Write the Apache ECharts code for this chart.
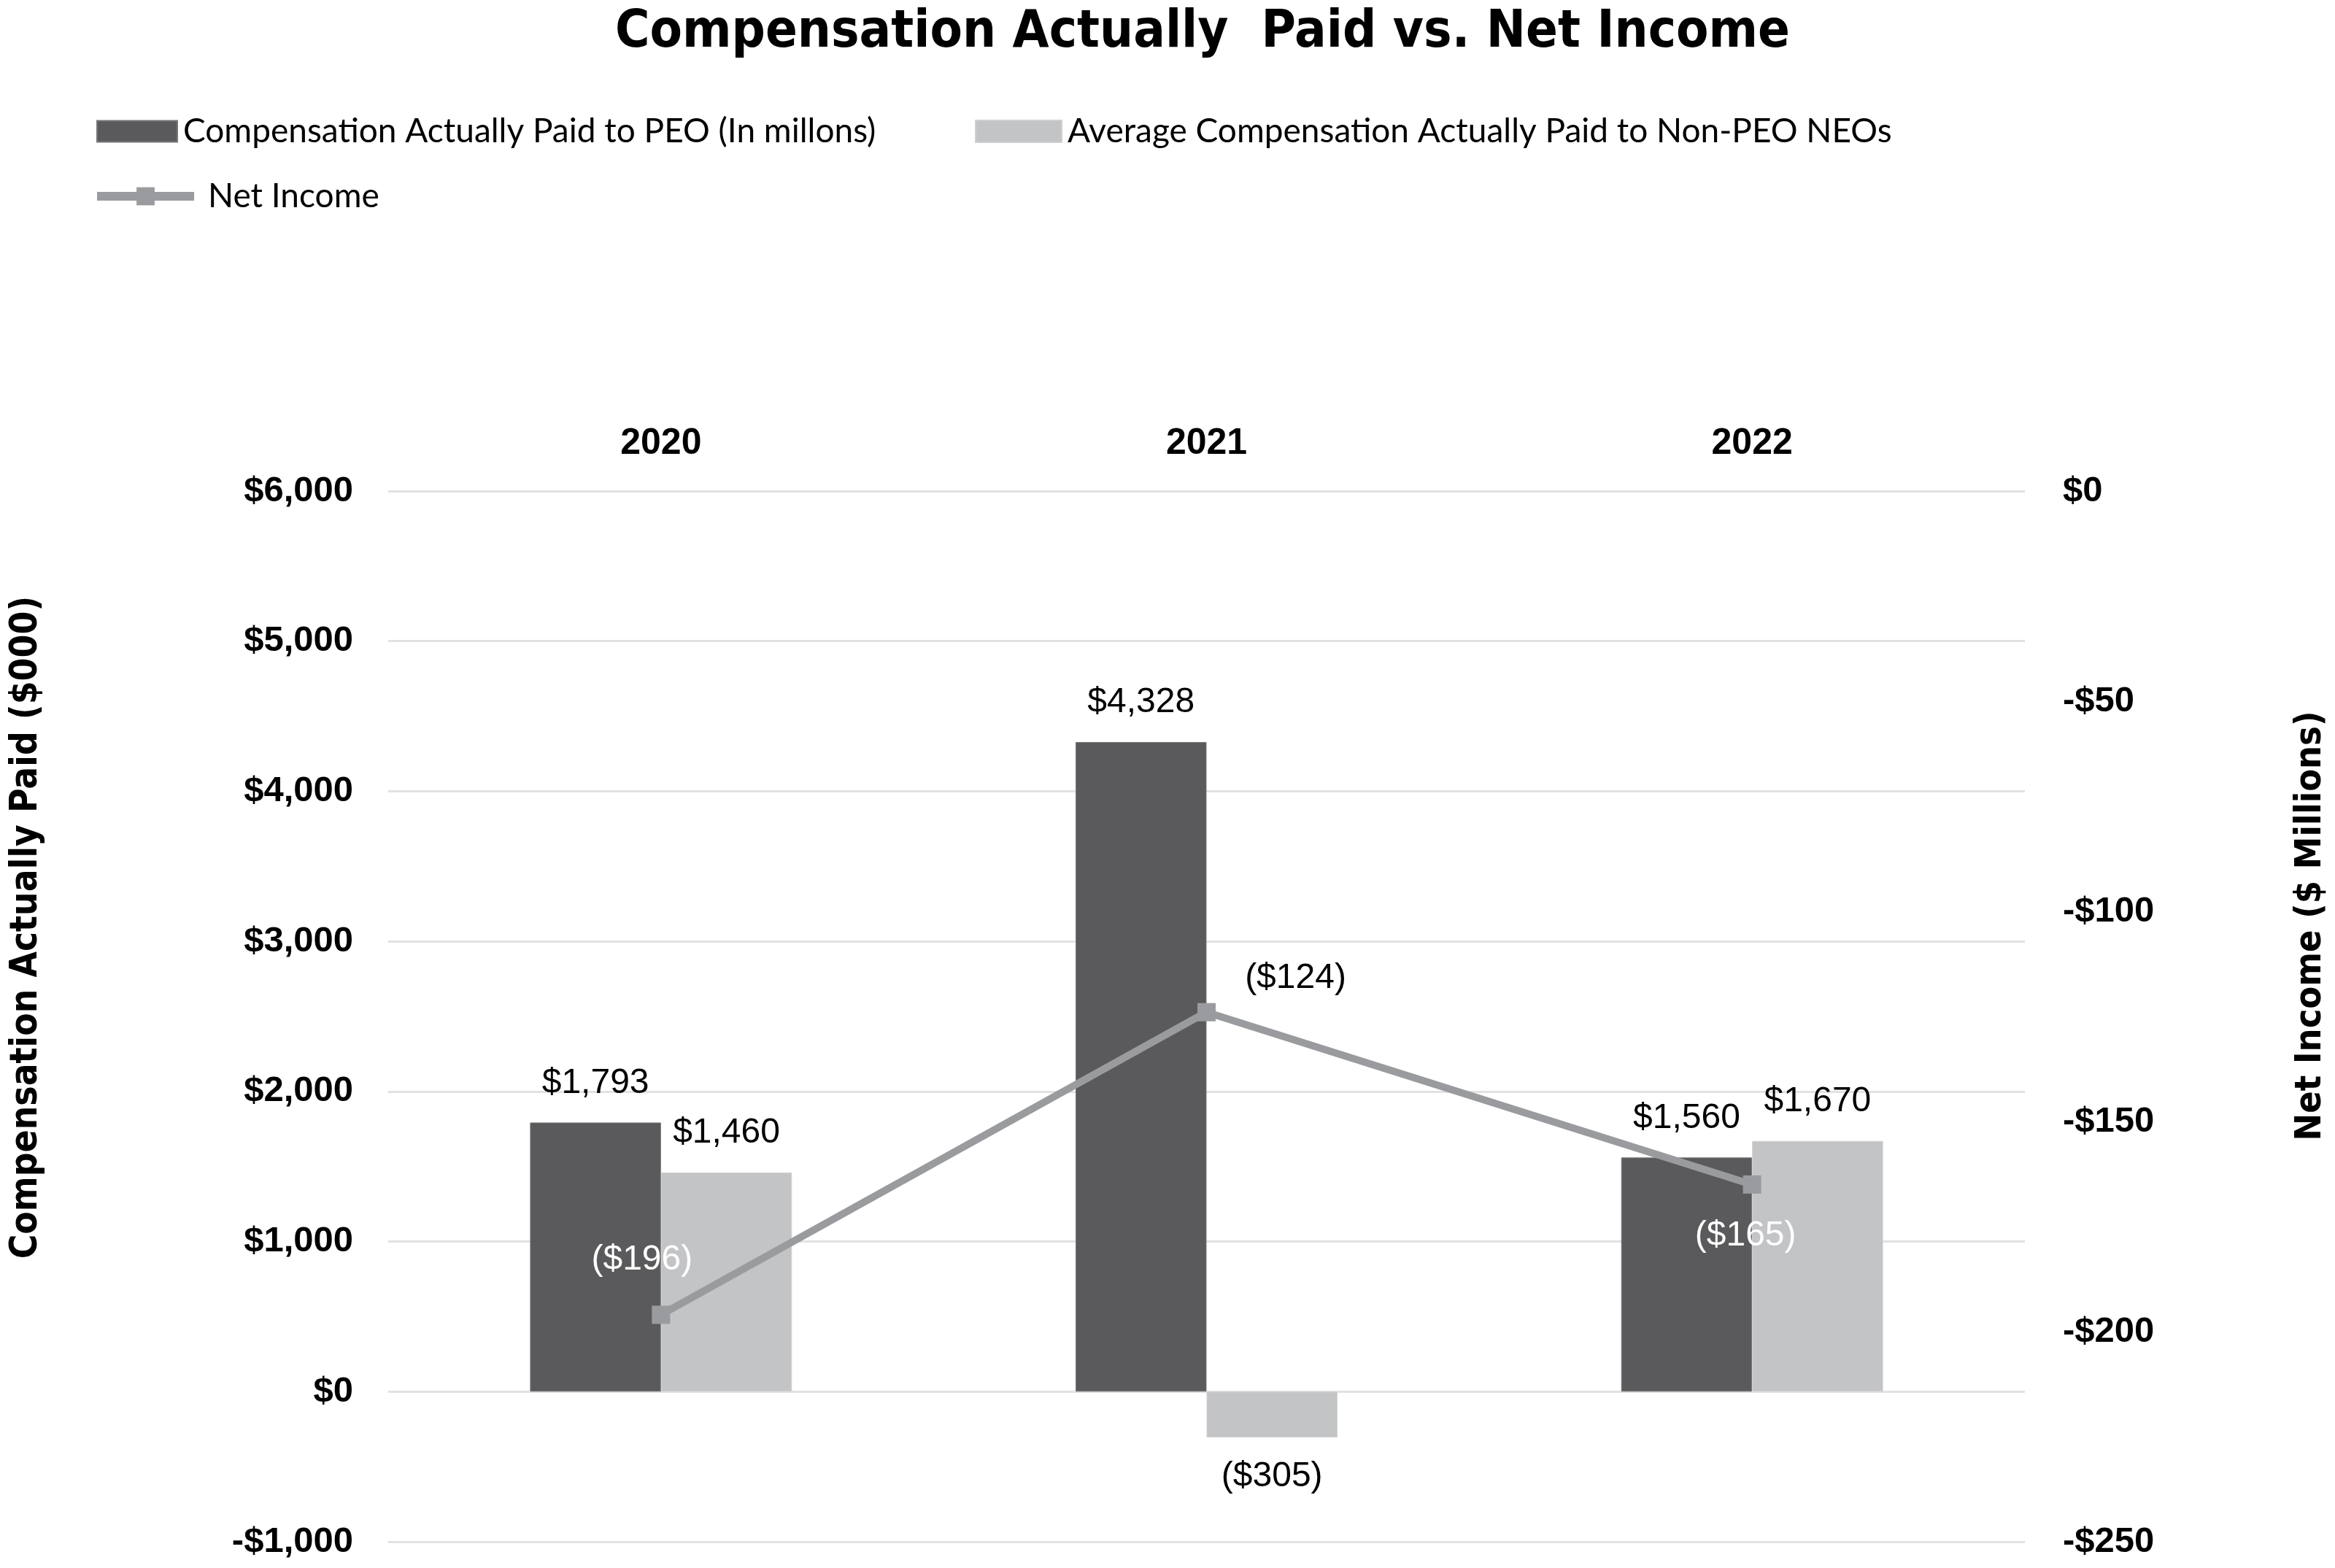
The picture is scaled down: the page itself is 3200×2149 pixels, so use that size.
<!DOCTYPE html>
<html>
<head>
<meta charset="utf-8">
<script src="https://cdn.jsdelivr.net/npm/echarts@6/dist/echarts.min.js"></script>
<style>
  html, body { margin: 0; padding: 0; background: #fff; }
  #chart { width: 3200px; height: 2149px; }
</style>
</head>
<body>
<div id="chart"></div>
<script>
// ---- data ----
const categories = ['2020', '2021', '2022'];
const peoCap = [1793, 4328, 1560];            // Compensation Actually Paid to PEO ($000)
const neoCap = [1460, -305, 1670];            // Average CAP to Non-PEO NEOs ($000)
const netIncome = [-196, -124, -165];         // Net Income ($ millions)
const leftAxisRange = [-1000, 6000, 1000];    // min, max, step
const rightAxisRange = [-250, 0, 50];         // min, max, step

const seriesNames = [
  'Compensation Actually Paid to PEO (In millons)',
  'Average Compensation Actually Paid to Non-PEO NEOs',
  'Net Income'
];

// ---- styles ----
const DARK = '#5a5a5c';
const LIGHT = '#c3c4c6';
const LINE = '#9a9b9e';
const GRID = '#e2e2e4';
const NARROW = '"Liberation Sans Narrow", "DejaVu Sans Condensed", "Liberation Sans", sans-serif';
const SANS = '"Liberation Sans", Arial, sans-serif';
const LEGEND_FONT = 'Lato, "Open Sans", sans-serif';
// net income label placement (offsets from points) and colours
const niLabelStyle = [
  { offset: [-26, -75], color: '#ffffff' },
  { offset: [122, -46], color: '#000000' },
  { offset: [-9, 70], color: '#ffffff' }
];

function money(v) {
  const s = '$' + Math.abs(v).toLocaleString('en-US');
  return v < 0 ? '(' + s + ')' : s;
}
function axisMoney(v) {
  const s = '$' + Math.abs(v).toLocaleString('en-US');
  return v < 0 ? '-' + s : s;
}

const chart = echarts.init(document.getElementById('chart'), null, { renderer: 'canvas' });

const barLabel = {
  show: true,
  position: 'top',
  distance: 30,
  fontFamily: SANS,
  fontSize: 48,
  color: '#000',
  formatter: p => money(p.value)
};

const legendText = { fontFamily: LEGEND_FONT, fontSize: 46, color: '#000' };

const option = {
  backgroundColor: '#ffffff',
  animation: false,
  title: {
    text: 'Compensation Actually  Paid vs. Net Income',
    left: 1648,
    textAlign: 'center',
    top: 9,
    padding: 0,
    textStyle: { fontFamily: NARROW, fontWeight: 'bold', fontSize: 72, color: '#000' }
  },
  legend: [
    {
      data: [seriesNames[0]], left: 127, top: 152, icon: 'rect',
      itemWidth: 110, itemHeight: 29, selectedMode: false,
      textStyle: Object.assign({ padding: [0, 0, 0, 3] }, legendText)
    },
    {
      data: [seriesNames[1]], left: 1331, top: 152, icon: 'rect',
      itemWidth: 118, itemHeight: 30, selectedMode: false,
      textStyle: Object.assign({ padding: [0, 0, 0, 3] }, legendText)
    },
    {
      data: [seriesNames[2]], left: 122, top: 241,
      itemWidth: 133, itemHeight: 31, selectedMode: false,
      lineStyle: { width: 12, color: LINE },
      itemStyle: { color: LINE },
      textStyle: Object.assign({ padding: [0, 0, 0, 14] }, legendText)
    }
  ],
  grid: { left: 532, right: 425, top: 673, bottom: 36, containLabel: false },
  xAxis: {
    type: 'category',
    position: 'top',
    data: categories,
    axisLine: { show: false },
    axisTick: { show: false },
    axisLabel: { margin: 40, fontFamily: SANS, fontWeight: 'bold', fontSize: 50, color: '#000' }
  },
  yAxis: [
    {
      type: 'value',
      min: leftAxisRange[0], max: leftAxisRange[1], interval: leftAxisRange[2],
      axisLine: { show: false }, axisTick: { show: false },
      splitLine: { show: true, lineStyle: { color: GRID, width: 3 } },
      axisLabel: { margin: 48, fontFamily: SANS, fontWeight: 'bold', fontSize: 49, color: '#000', formatter: axisMoney }
    },
    {
      type: 'value',
      position: 'right',
      min: rightAxisRange[0], max: rightAxisRange[1], interval: rightAxisRange[2],
      axisLine: { show: false }, axisTick: { show: false },
      splitLine: { show: false },
      axisLabel: { margin: 52, fontFamily: SANS, fontWeight: 'bold', fontSize: 49, color: '#000', formatter: axisMoney }
    }
  ],
  series: [
    {
      name: seriesNames[0],
      type: 'bar',
      yAxisIndex: 0,
      barGap: '0%',
      barCategoryGap: '52%',
      itemStyle: { color: DARK, borderColor: '#777779', borderWidth: 1 },
      label: barLabel,
      data: peoCap.map(v => ({ value: v })),
      z: 2
    },
    {
      name: seriesNames[1],
      type: 'bar',
      yAxisIndex: 0,
      barGap: '0%',
      barCategoryGap: '52%',
      itemStyle: { color: LIGHT, borderColor: '#d0d0d2', borderWidth: 1 },
      label: barLabel,
      data: neoCap.map(v => v < 0
        ? { value: v, label: { position: 'bottom' } }
        : { value: v }),
      z: 2
    },
    {
      name: seriesNames[2],
      type: 'line',
      yAxisIndex: 1,
      symbol: 'rect',
      symbolSize: 25,
      lineStyle: { color: LINE, width: 10 },
      itemStyle: { color: LINE },
      z: 5,
      label: {
        show: true,
        position: 'inside',
        fontFamily: SANS,
        fontSize: 48,
        formatter: p => money(p.value)
      },
      data: netIncome.map((v, i) => ({
        value: v,
        label: { offset: niLabelStyle[i].offset, color: niLabelStyle[i].color }
      }))
    }
  ],
  graphic: [
    {
      type: 'text', x: 37, y: 1271, rotation: Math.PI / 2,
      style: {
        text: 'Compensation Actually Paid ($000)',
        fontFamily: NARROW, fontWeight: 'bold', fontSize: 51, fill: '#000',
        textAlign: 'center', textVerticalAlign: 'middle'
      }
    },
    {
      type: 'text', x: 3167, y: 1269, rotation: Math.PI / 2,
      style: {
        text: 'Net Income ($ Millions)',
        fontFamily: NARROW, fontWeight: 'bold', fontSize: 50, fill: '#000',
        textAlign: 'center', textVerticalAlign: 'middle'
      }
    }
  ]
};

chart.setOption(option);
</script>
</body>
</html>
